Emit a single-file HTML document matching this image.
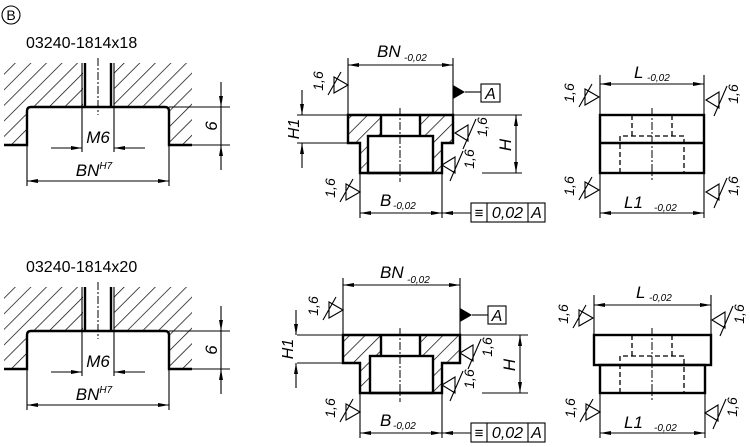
<!DOCTYPE html>
<html><head><meta charset="utf-8"><style>
html,body{margin:0;padding:0;background:#fff;}
svg{display:block;}
text{font-family:"Liberation Sans",sans-serif;font-style:italic;fill:#000;}
.t{font-style:normal;}
.k{stroke:#000;stroke-width:2.4;fill:none;}
.n{stroke:#000;stroke-width:1.1;fill:none;}
.c{stroke:#000;stroke-width:1;fill:none;stroke-dasharray:8,2,2,2;}
.d{stroke:#000;stroke-width:1.3;fill:none;stroke-dasharray:5,3;}
.h{fill:url(#hp);stroke:none;}
</style></head><body>
<svg width="750" height="447" viewBox="0 0 750 447" xmlns="http://www.w3.org/2000/svg">
<defs>
<pattern id="hp" width="11" height="11" patternUnits="userSpaceOnUse" patternTransform="rotate(45)"><line x1="0" y1="0" x2="0" y2="11" stroke="#000" stroke-width="1.4"/></pattern>
<marker id="a" viewBox="0 0 11 4" refX="11" refY="2" markerWidth="11" markerHeight="4" markerUnits="userSpaceOnUse" orient="auto-start-reverse"><path d="M0,0 L11,2 L0,4Z" fill="#000"/></marker>
<g id="sl"><path d="M0,0 L-14,-8 L-14,8 Z M-20,10 L-7,-13" stroke="#000" stroke-width="1.1" fill="none"/></g>
<g id="sr"><path d="M0,0 L13,-8 L13,8 Z M8,16 L21,-14" stroke="#000" stroke-width="1.1" fill="none"/></g>
</defs>

<circle cx="11" cy="15" r="9" class="n"/>
<text class="t" x="11" y="20" font-size="14" text-anchor="middle">B</text>

<!-- LEFT TOP -->
<text class="t" x="26" y="48" font-size="16">03240-1814x18</text>
<path class="h" d="M4,63 L83,63 L83,107 L27,107 L27,145 L4,145 Z"/>
<path class="h" d="M114,63 L192,63 L192,145 L169,145 L169,107 L114,107 Z"/>
<path class="k" d="M4,145 H27 V111 Q27,107 31,107 H165 Q169,107 169,111 V145 H192"/>
<path class="n" d="M82,63 V152 M114,63 V152"/>
<path class="k" d="M85,63 V107 M111,63 V107"/>
<path class="c" d="M98,58 V115"/>
<path class="n" d="M169,107 H230 M192,145 H230"/>
<path class="n" d="M221,82 V107" marker-end="url(#a)"/>
<path class="n" d="M221,170 V145" marker-end="url(#a)"/>
<path class="n" d="M221,107 V145"/>
<text x="0" y="0" font-size="17" transform="translate(217,126) rotate(-90)" text-anchor="middle">6</text>
<path class="n" d="M51,148 H82" marker-end="url(#a)"/>
<path class="n" d="M145,148 H114" marker-end="url(#a)"/>
<text x="98" y="143" font-size="17" text-anchor="middle">M6</text>
<path class="n" d="M27,145 V186 M169,145 V186"/>
<path class="n" d="M27,181 H169" marker-start="url(#a)" marker-end="url(#a)"/>
<text x="94" y="176" font-size="17" text-anchor="middle">BN<tspan font-size="10" dy="-7">H7</tspan></text>

<!-- LEFT BOTTOM -->
<g transform="translate(0,224)">
<path class="h" d="M4,63 L83,63 L83,107 L27,107 L27,145 L4,145 Z"/>
<path class="h" d="M114,63 L192,63 L192,145 L169,145 L169,107 L114,107 Z"/>
<path class="k" d="M4,145 H27 V111 Q27,107 31,107 H165 Q169,107 169,111 V145 H192"/>
<path class="n" d="M82,63 V152 M114,63 V152"/>
<path class="k" d="M85,63 V107 M111,63 V107"/>
<path class="c" d="M98,58 V115"/>
<path class="n" d="M169,107 H230 M192,145 H230"/>
<path class="n" d="M221,82 V107" marker-end="url(#a)"/>
<path class="n" d="M221,170 V145" marker-end="url(#a)"/>
<path class="n" d="M221,107 V145"/>
<text x="0" y="0" font-size="17" transform="translate(217,126) rotate(-90)" text-anchor="middle">6</text>
<path class="n" d="M51,148 H82" marker-end="url(#a)"/>
<path class="n" d="M145,148 H114" marker-end="url(#a)"/>
<text x="98" y="143" font-size="17" text-anchor="middle">M6</text>
<path class="n" d="M27,145 V186 M169,145 V186"/>
<path class="n" d="M27,181 H169" marker-start="url(#a)" marker-end="url(#a)"/>
<text x="94" y="176" font-size="17" text-anchor="middle">BN<tspan font-size="10" dy="-7">H7</tspan></text>
</g>
<text class="t" x="26" y="272" font-size="16">03240-1814x20</text>

<!-- MIDDLE TOP -->
<path class="h" d="M348,115 H381 V136 H368 V173 H360 V143 H348 Z"/>
<path class="h" d="M420,115 H453 V143 H442 V173 H433 V136 H420 Z"/>
<path class="k" d="M348,115 H453 V143 H442 V173 H360 V143 H348 Z"/>
<path class="k" d="M381,115 V136 M420,115 V136"/>
<rect class="k" x="368" y="136" width="65" height="37"/>
<path class="c" d="M400,108 V182"/>
<path class="n" d="M297,115 H522 M297,143 H348 M482,173 H522"/>
<path class="n" d="M348,58 V115 M453,58 V115"/>
<path class="n" d="M348,65 H453" marker-start="url(#a)" marker-end="url(#a)"/>
<text x="377" y="57" font-size="17">BN</text>
<text x="404" y="61" font-size="10">-0,02</text>
<path class="n" d="M302,90 V115" marker-end="url(#a)"/>
<path class="n" d="M302,168 V143" marker-end="url(#a)"/>
<text x="0" y="0" font-size="16" transform="translate(299,129) rotate(-90)" text-anchor="middle">H1</text>
<path class="n" d="M516,115 V173" marker-start="url(#a)" marker-end="url(#a)"/>
<text x="0" y="0" font-size="17" transform="translate(511,145) rotate(-90)" text-anchor="middle">H</text>
<path d="M453,85 L465,92 L453,99 Z" fill="#000"/>
<path class="n" d="M465,92 H481"/>
<rect class="n" x="481" y="84" width="19" height="18"/>
<text x="490.5" y="99" font-size="16" text-anchor="middle">A</text>
<path class="n" d="M360,173 V218 M442,173 V218"/>
<path class="n" d="M360,213 H442" marker-start="url(#a)" marker-end="url(#a)"/>
<path class="n" d="M471,213 H442" marker-end="url(#a)"/>
<text x="380" y="206" font-size="17">B</text>
<text x="393" y="209" font-size="10">-0,02</text>
<rect class="n" x="471" y="203" width="74" height="19"/>
<path class="n" d="M487,203 V222 M528,203 V222"/>
<text class="t" x="479" y="218" font-size="15" text-anchor="middle">≡</text>
<text x="507.5" y="218" font-size="16" text-anchor="middle">0,02</text>
<text x="536.5" y="218" font-size="16" text-anchor="middle">A</text>
<use href="#sl" x="348" y="85"/><text x="0" y="0" font-size="14" transform="translate(323,81) rotate(-90)" text-anchor="middle">1,6</text>
<use href="#sr" x="455" y="133"/><text x="0" y="0" font-size="14" transform="translate(487,127) rotate(-90)" text-anchor="middle">1,6</text>
<use href="#sr" x="442" y="165"/><text x="0" y="0" font-size="14" transform="translate(474,159) rotate(-90)" text-anchor="middle">1,6</text>
<use href="#sl" x="360" y="192"/><text x="0" y="0" font-size="14" transform="translate(335,188) rotate(-90)" text-anchor="middle">1,6</text>

<!-- MIDDLE BOTTOM -->
<path class="h" d="M343,335 H381 V356 H370 V393 H360 V363 H343 Z"/>
<path class="h" d="M420,335 H460 V363 H442 V393 H433 V356 H420 Z"/>
<path class="k" d="M343,335 H460 V363 H442 V393 H360 V363 H343 Z"/>
<path class="k" d="M381,335 V356 M420,335 V356"/>
<rect class="k" x="370" y="356" width="63" height="37"/>
<path class="c" d="M400,328 V402"/>
<path class="n" d="M297,335 H528 M297,363 H343 M482,393 H528"/>
<path class="n" d="M343,278 V335 M460,278 V335"/>
<path class="n" d="M343,285 H460" marker-start="url(#a)" marker-end="url(#a)"/>
<text x="380" y="278" font-size="17">BN</text>
<text x="407" y="283" font-size="10">-0,02</text>
<path class="n" d="M296,310 V335" marker-end="url(#a)"/>
<path class="n" d="M296,388 V363" marker-end="url(#a)"/>
<text x="0" y="0" font-size="16" transform="translate(293,349) rotate(-90)" text-anchor="middle">H1</text>
<path class="n" d="M520,335 V393" marker-start="url(#a)" marker-end="url(#a)"/>
<text x="0" y="0" font-size="17" transform="translate(515,365) rotate(-90)" text-anchor="middle">H</text>
<path d="M460,308 L472,315 L460,322 Z" fill="#000"/>
<path class="n" d="M472,315 H488"/>
<rect class="n" x="488" y="306" width="18" height="18"/>
<text x="497" y="321" font-size="16" text-anchor="middle">A</text>
<path class="n" d="M360,393 V438 M442,393 V438"/>
<path class="n" d="M360,433 H442" marker-start="url(#a)" marker-end="url(#a)"/>
<path class="n" d="M471,433 H442" marker-end="url(#a)"/>
<text x="380" y="426" font-size="17">B</text>
<text x="393" y="429" font-size="10">-0,02</text>
<rect class="n" x="471" y="423" width="74" height="19"/>
<path class="n" d="M487,423 V442 M528,423 V442"/>
<text class="t" x="479" y="438" font-size="15" text-anchor="middle">≡</text>
<text x="507.5" y="438" font-size="16" text-anchor="middle">0,02</text>
<text x="536.5" y="438" font-size="16" text-anchor="middle">A</text>
<use href="#sl" x="343" y="310"/><text x="0" y="0" font-size="14" transform="translate(318,306) rotate(-90)" text-anchor="middle">1,6</text>
<use href="#sr" x="460" y="353"/><text x="0" y="0" font-size="14" transform="translate(492,347) rotate(-90)" text-anchor="middle">1,6</text>
<use href="#sr" x="442" y="385"/><text x="0" y="0" font-size="14" transform="translate(474,379) rotate(-90)" text-anchor="middle">1,6</text>
<use href="#sl" x="360" y="412"/><text x="0" y="0" font-size="14" transform="translate(335,408) rotate(-90)" text-anchor="middle">1,6</text>

<!-- RIGHT TOP -->
<rect class="k" x="600" y="115" width="104" height="58"/>
<path class="k" d="M600,143 H704"/>
<path class="d" d="M632,136 V115 M672,115 V136 M620,173 V136 H684 V173"/>
<path class="c" d="M652,108 V180"/>
<path class="n" d="M600,75 V115 M704,75 V115 M600,173 V218 M704,173 V218"/>
<path class="n" d="M600,84 H704" marker-start="url(#a)" marker-end="url(#a)"/>
<path class="n" d="M600,213 H704" marker-start="url(#a)" marker-end="url(#a)"/>
<text x="634" y="78" font-size="17">L</text>
<text x="647" y="81" font-size="10">-0,02</text>
<text x="624" y="208" font-size="17">L1</text>
<text x="654" y="211" font-size="10">-0,02</text>
<use href="#sl" x="599" y="97"/><text x="0" y="0" font-size="14" transform="translate(574,93) rotate(-90)" text-anchor="middle">1,6</text>
<use href="#sr" x="706" y="100"/><text x="0" y="0" font-size="14" transform="translate(738,94) rotate(-90)" text-anchor="middle">1,6</text>
<use href="#sl" x="599" y="190"/><text x="0" y="0" font-size="14" transform="translate(574,186) rotate(-90)" text-anchor="middle">1,6</text>
<use href="#sr" x="706" y="192"/><text x="0" y="0" font-size="14" transform="translate(738,186) rotate(-90)" text-anchor="middle">1,6</text>

<!-- RIGHT BOTTOM -->
<rect class="k" x="594" y="335" width="117" height="30"/>
<rect class="k" x="600" y="365" width="105" height="28"/>
<path class="d" d="M632,356 V335 M672,335 V356 M620,393 V356 H684 V393"/>
<path class="c" d="M652,328 V400"/>
<path class="n" d="M594,295 V335 M711,295 V335 M600,393 V438 M705,393 V438"/>
<path class="n" d="M594,305 H711" marker-start="url(#a)" marker-end="url(#a)"/>
<path class="n" d="M600,433 H705" marker-start="url(#a)" marker-end="url(#a)"/>
<text x="636" y="298" font-size="17">L</text>
<text x="649" y="301" font-size="10">-0,02</text>
<text x="624" y="428" font-size="17">L1</text>
<text x="654" y="431" font-size="10">-0,02</text>
<use href="#sl" x="593" y="318"/><text x="0" y="0" font-size="14" transform="translate(568,314) rotate(-90)" text-anchor="middle">1,6</text>
<use href="#sr" x="712" y="320"/><text x="0" y="0" font-size="14" transform="translate(744,314) rotate(-90)" text-anchor="middle">1,6</text>
<use href="#sl" x="600" y="412"/><text x="0" y="0" font-size="14" transform="translate(575,408) rotate(-90)" text-anchor="middle">1,6</text>
<use href="#sr" x="705" y="413"/><text x="0" y="0" font-size="14" transform="translate(737,407) rotate(-90)" text-anchor="middle">1,6</text>
</svg>
</body></html>
